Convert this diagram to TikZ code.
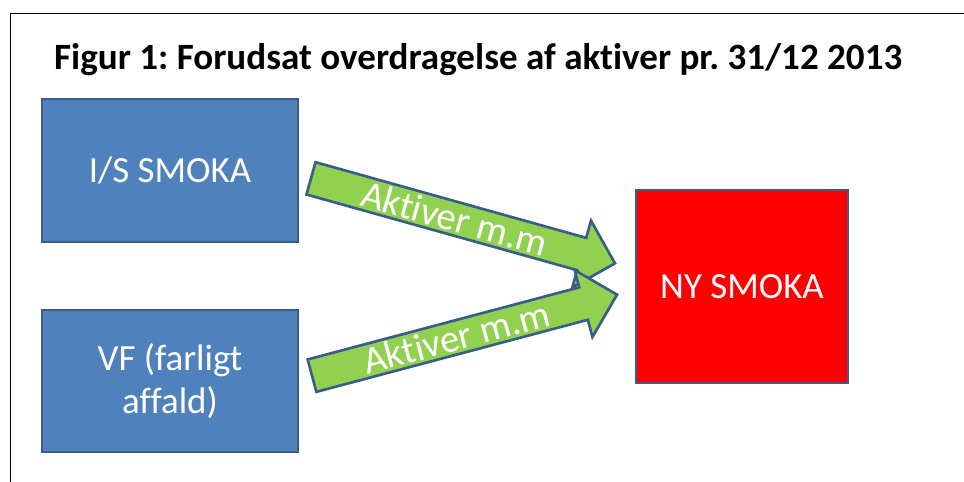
\documentclass[tikz,border=0pt]{standalone}
\usepackage{fontspec}
\setmainfont[Ligatures=NoCommon]{Carlito}
\frenchspacing
\usetikzlibrary{shapes.arrows,calc,shadows}
\definecolor{boxblue}{HTML}{4F81BD}
\definecolor{edgeblue}{HTML}{385D8A}
\definecolor{arrowgreen}{HTML}{92D050}

\begin{document}
\begin{tikzpicture}[
    box/.style={draw=edgeblue, line width=1.4pt, fill=boxblue, text=white, align=center,
        font=\fontsize{21}{24.5}\selectfont,
        drop shadow={opacity=0.35, shadow xshift=0.8pt, shadow yshift=-0.8pt}},
    blockarrow/.style={single arrow, draw=edgeblue, line width=1.5pt, fill=arrowgreen, text=white,
        font=\fontsize{22}{24}\selectfont, text height=15pt, text depth=0pt, inner ysep=1.3pt,
        inner xsep=0pt, single arrow head extend=0.357cm}]
    \useasboundingbox (0,0) rectangle (19.28,-9.64);

    % frame
    \draw [line width=1.1pt] (0.21,-9.64) -- (0.21,-0.27) -- (19.28,-0.27);

    % title
    \node (title) at (0.96,-1.4) [anchor=base west, font=\bfseries\fontsize{21.1}{24}\selectfont]
        {Figur 1: Forudsat overdragelse af aktiver pr. 31/12 2013};

    % boxes
    \node (is) at (3.4,-3.41) [box, minimum width=5.12cm, minimum height=2.86cm] {I/S SMOKA};
    \node (vf) at (3.4,-7.62) [box, minimum width=5.12cm, minimum height=2.84cm] {VF (farligt\\affald)};
    \node (ny) at (14.84,-5.73) [box, fill=red, minimum width=4.24cm, minimum height=3.86cm] {NY SMOKA};

    % arrow ends
    \coordinate (t1) at ($(is.east)+(0.21,-0.15)$);
    \coordinate (h1) at ($(ny.west)+(-0.42,0.47)$);
    \coordinate (t2) at ($(vf.east)+(0.23,0.10)$);
    \coordinate (h2) at ($(ny.west)+(-0.38,-0.17)$);

    \foreach \tail/\tip in {t1/h1, t2/h2} {
        \path let \p1 = ($(\tip)-(\tail)$), \n1 = {atan2(\y1,\x1)}, \n2 = {veclen(\x1,\y1)} in
            node at (\tail) [blockarrow, anchor=tail, rotate=\n1, minimum height=\n2] {Aktiver m.m};
    }
\end{tikzpicture}
\end{document}
